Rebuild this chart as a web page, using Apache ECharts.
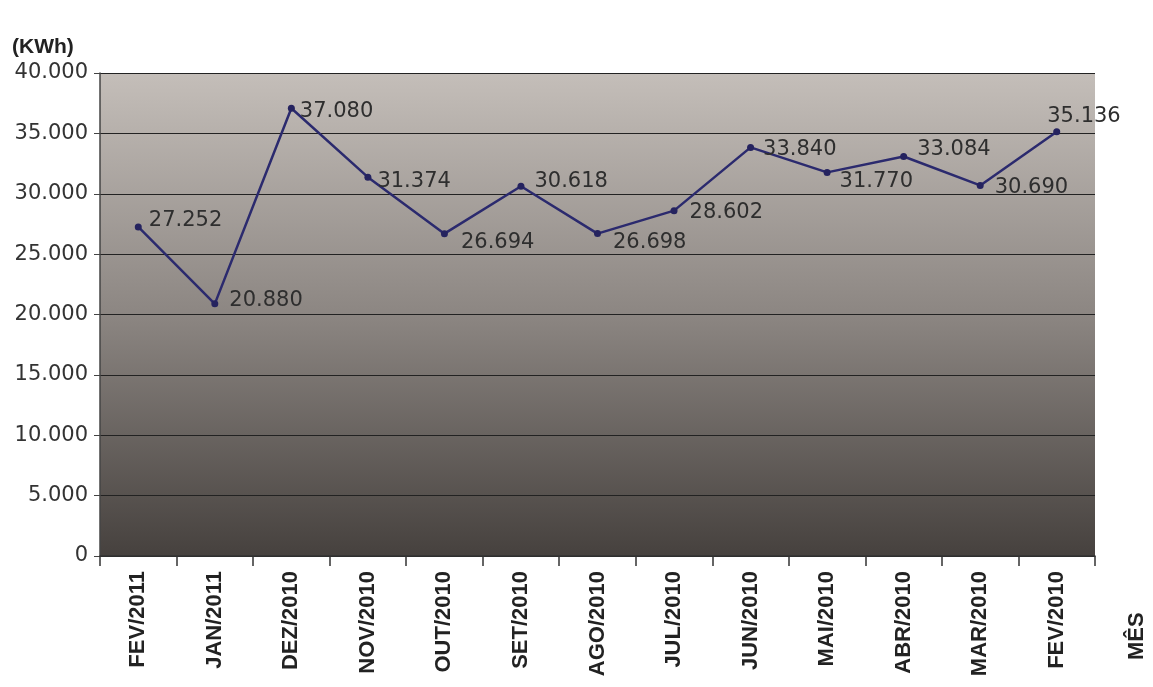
<!DOCTYPE html>
<html>
<head>
<meta charset="utf-8">
<script src="https://cdn.jsdelivr.net/npm/echarts@6/dist/echarts.min.js"></script>
<style>
  html, body { margin: 0; padding: 0; background: #fff; }
  #chart { width: 1153px; height: 687px; }
</style>
</head>
<body>
<div id="chart"></div>
<script>
  // dados do gráfico
  let meses = ['FEV/2011', 'JAN/2011', 'DEZ/2010', 'NOV/2010', 'OUT/2010', 'SET/2010', 'AGO/2010',
               'JUL/2010', 'JUN/2010', 'MAI/2010', 'ABR/2010', 'MAR/2010', 'FEV/2010'];
  let consumo = [27252, 20880, 37080, 31374, 26694, 30618, 26698, 28602, 33840, 31770, 33084, 30690, 35136];

  // deslocamento dos rótulos (estilo, não dados)
  let rotuloOffset = [[2, -6], [6, -3], [0, 3], [1, 4], [8, 9], [5, -5], [7, 9],
                      [7, 2], [4, 2], [4, 9], [5, -7], [6, 2], [-18, -15]];

  function fmt(v) {
    return String(v).replace(/\B(?=(\d{3})+(?!\d))/g, '.');
  }

  let dom = document.getElementById('chart');
  let myChart = echarts.init(dom);

  let data = consumo.map(function (v, i) {
    return {
      value: v,
      label: { offset: rotuloOffset[i] }
    };
  });

  let option = {
    animation: false,
    backgroundColor: '#ffffff',
    textStyle: { fontFamily: 'Liberation Sans, Arial, sans-serif' },
    grid: {
      left: 100,
      right: 58,
      top: 73,
      bottom: 131,
      show: true,
      borderWidth: 0,
      backgroundColor: new echarts.graphic.LinearGradient(0, 0, 0, 1, [
        { offset: 0, color: '#c4beb9' },
        { offset: 0.5, color: '#8c8682' },
        { offset: 1, color: '#46413e' }
      ])
    },
    graphic: [
      {
        type: 'text',
        left: 12,
        top: 37,
        style: { text: '(KWh)', font: 'bold 21px Liberation Sans, Arial', fill: '#222' }
      },
      {
        type: 'text',
        x: 1126,
        y: 660,
        rotation: Math.PI / 2,
        style: { text: 'MÊS', font: 'bold 22px Liberation Sans, Arial', fill: '#222' }
      }
    ],
    xAxis: {
      type: 'category',
      data: meses,
      boundaryGap: true,
      axisLine: { lineStyle: { color: '#333', width: 1.5 } },
      axisTick: { show: true, length: 10, lineStyle: { color: '#333', width: 1.5 } },
      axisLabel: {
        interval: 0,
        rotate: 90,
        margin: 15,
        fontSize: 22,
        fontWeight: 'bold',
        color: '#222'
      }
    },
    yAxis: {
      type: 'value',
      min: 0,
      max: 40000,
      interval: 5000,
      axisLine: { show: true, lineStyle: { color: '#444', width: 1.5 } },
      axisTick: { show: true, length: 6, lineStyle: { color: '#444' } },
      splitLine: { lineStyle: { color: '#222', width: 1.2 } },
      axisLabel: {
        fontSize: 21,
        fontFamily: 'DejaVu Sans, sans-serif',
        color: '#333',
        margin: 12,
        formatter: function (v) { return fmt(v); }
      }
    },
    series: [
      {
        type: 'line',
        data: data,
        symbol: 'circle',
        symbolSize: 7,
        itemStyle: { color: '#25235f' },
        lineStyle: { color: '#2b2a6e', width: 2.5 },
        label: {
          show: true,
          position: 'right',
          fontSize: 21,
          fontFamily: 'DejaVu Sans, sans-serif',
          color: '#2e2e2e',
          formatter: function (p) { return fmt(p.value); }
        }
      }
    ]
  };

  myChart.setOption(option, true);
</script>
</body>
</html>
